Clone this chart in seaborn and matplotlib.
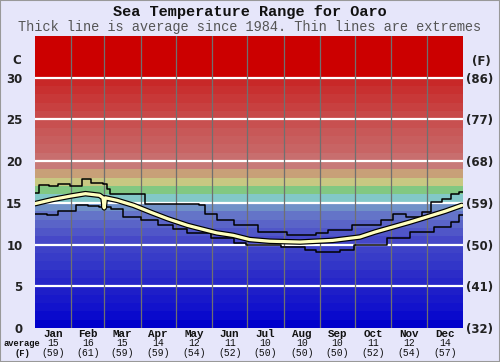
import matplotlib
matplotlib.use('agg')
import matplotlib.pyplot as plt
import matplotlib.patches as mpatches
import matplotlib.transforms as mtrans
import seaborn as sns
import pandas as pd

# values (day of year, deg C)
avg_days = [0, 15, 30, 43, 55, 58, 59, 60, 70, 84, 100, 113, 130, 141, 155, 169,
            183, 200, 226, 254, 277, 290, 305, 320, 334, 350, 364]
avg_temp = [14.9, 15.4, 15.8, 16.1, 15.9, 15.6, 14.4, 15.6, 15.3, 14.7, 13.8, 13.1,
            12.3, 11.9, 11.4, 11.1, 10.6, 10.4, 10.3, 10.5, 10.9, 11.5, 12.1, 12.7,
            13.3, 14.0, 14.7]

max_days = [0, 3, 12, 20, 30, 40, 48, 58, 61, 64, 94, 140, 145, 155, 170, 190, 215,
            240, 250, 270, 295, 305, 316, 330, 338, 347, 355, 362, 365]
max_temp = [16.2, 17.1, 17.0, 17.2, 17.0, 17.9, 17.4, 17.3, 16.6, 16.1, 14.9, 14.7,
            13.7, 12.9, 12.3, 11.5, 11.1, 11.4, 11.7, 12.3, 12.9, 13.7, 13.3, 13.9,
            15.1, 15.5, 16.1, 16.3, 16.3]

min_days = [0, 10, 20, 35, 45, 55, 65, 75, 90, 105, 118, 130, 150, 170, 180, 210,
            230, 240, 260, 272, 290, 300, 320, 340, 355, 362, 365]
min_temp = [13.7, 13.6, 14.0, 14.7, 14.6, 14.5, 14.3, 13.3, 12.9, 12.4, 11.9, 11.4,
            10.75, 10.2, 9.9, 9.7, 9.3, 9.1, 9.4, 10.0, 9.9, 10.75, 11.5, 12.1, 12.7,
            13.5, 13.5]

months = ['Jan', 'Feb', 'Mar', 'Apr', 'May', 'Jun', 'Jul', 'Aug', 'Sep', 'Oct', 'Nov', 'Dec']
month_avg_c = [15, 16, 15, 14, 12, 11, 10, 10, 10, 11, 12, 14]
month_avg_f = [59, 61, 59, 59, 54, 52, 50, 50, 50, 52, 54, 57]
month_len = [31, 28, 31, 30, 31, 30, 31, 31, 30, 31, 30, 31]

c_ticks = [0, 5, 10, 15, 20, 25, 30]
f_ticks = ['(32)', '(41)', '(50)', '(59)', '(68)', '(77)', '(86)']

# background band colours, one per degree from 0 up
band_rgb = [(0, 0, 204), (10, 10, 204), (18, 18, 204), (24, 24, 202), (30, 30, 200),
            (38, 38, 200), (44, 44, 200), (50, 54, 200), (56, 60, 200), (62, 66, 200),
            (70, 72, 200), (80, 86, 200), (90, 100, 200), (100, 116, 200), (112, 145, 200),
            (130, 200, 200), (130, 200, 130), (200, 200, 130), (200, 160, 120), (200, 122, 120),
            (200, 110, 110), (200, 100, 100), (200, 94, 94), (200, 88, 88), (200, 80, 80),
            (200, 74, 74), (200, 64, 64), (200, 56, 56), (200, 48, 48), (200, 40, 40)]

bg = '#e6e6fa'
sns.set_style('white')
mono = 'Liberation Mono'

fig = plt.figure(figsize=(5, 3.62), dpi=100, facecolor=bg)
ax = fig.add_axes([0.07, 0.094, 0.856, 0.8066])
ax.set_xlim(0, 365)
ax.set_ylim(0, 35)

for i in range(35):
    r, g, b = band_rgb[i] if i < len(band_rgb) else (204, 0, 0)
    ax.axhspan(i, i + 1, color=(r / 255, g / 255, b / 255), lw=0, zorder=0)

for t in c_ticks[1:]:
    ax.axhline(t, color='white', lw=1.6, zorder=1)

edges = pd.Series(month_len).cumsum()
for e in edges[:-1]:
    ax.axvline(e, color='#707070', lw=0.9, zorder=1)

sns.lineplot(x=max_days, y=max_temp, ax=ax, color='black', lw=1.1,
             drawstyle='steps-post', estimator=None, zorder=3)
sns.lineplot(x=min_days, y=min_temp, ax=ax, color='black', lw=1.1,
             drawstyle='steps-post', estimator=None, zorder=3)
sns.lineplot(x=avg_days, y=avg_temp, ax=ax, color='black', lw=4.0,
             estimator=None, zorder=4)
sns.lineplot(x=avg_days, y=avg_temp, ax=ax, color='#ffffbe', lw=2.3,
             estimator=None, zorder=5)

for s in ax.spines.values():
    s.set_visible(False)

ax.set_yticks(c_ticks)
ax.set_yticklabels([str(t) for t in c_ticks], fontsize=8.5, fontweight='bold', color='#222222')
ax.tick_params(axis='y', length=0, pad=9)

ax2 = ax.twinx()
ax2.set_ylim(ax.get_ylim())
ax2.set_yticks(c_ticks)
ax2.set_yticklabels(f_ticks, fontsize=8.5, fontweight='bold', color='#222222')
ax2.tick_params(axis='y', length=0, pad=2)
for s in ax2.spines.values():
    s.set_visible(False)

mids = (edges - pd.Series(month_len) / 2).tolist()
ax.set_xticks([])

tr = mtrans.blended_transform_factory(ax.transData, ax.transAxes)
for m, name, c, f in zip(mids, months, month_avg_c, month_avg_f):
    ax.text(m, -0.021, name, transform=tr, ha='center', va='center',
            fontsize=7.8, fontweight='bold', family=mono, color='#111111')
    ax.text(m, -0.053, str(c), transform=tr, ha='center', va='center',
            fontsize=7, family=mono, color='#111111')
    ax.text(m, -0.086, '(%d)' % f, transform=tr, ha='center', va='center',
            fontsize=7, family=mono, color='#111111')

fig.text(22 / 500, 1 - 344 / 362, 'average', ha='center', va='center',
         fontsize=6.3, family=mono, fontweight='bold', color='#111111')
fig.text(22 / 500, 1 - 353 / 362, '(F)', ha='center', va='center',
         fontsize=6.3, family=mono, fontweight='bold', color='#111111')
fig.text(17 / 500, 1 - 61 / 362, 'C', ha='center', va='center',
         fontsize=8.5, fontweight='bold', color='#222222')
fig.text(481 / 500, 1 - 61 / 362, '(F)', ha='center', va='center',
         fontsize=8.5, fontweight='bold', color='#222222')

fig.text(0.5, 1 - 12 / 362, 'Sea Temperature Range for Oaro', ha='center', va='center',
         fontsize=11, fontweight='bold', family=mono, color='#111111')
fig.text(0.5, 1 - 27 / 362, 'Thick line is average since 1984. Thin lines are extremes',
         ha='center', va='center', fontsize=9.8, family=mono, color='#555555')

fig.patches.append(mpatches.Rectangle((0, 0), 1, 1, transform=fig.transFigure,
                                      fill=False, edgecolor='#999999', lw=1.5))

fig.savefig('out.png', dpi=100, facecolor=bg)
